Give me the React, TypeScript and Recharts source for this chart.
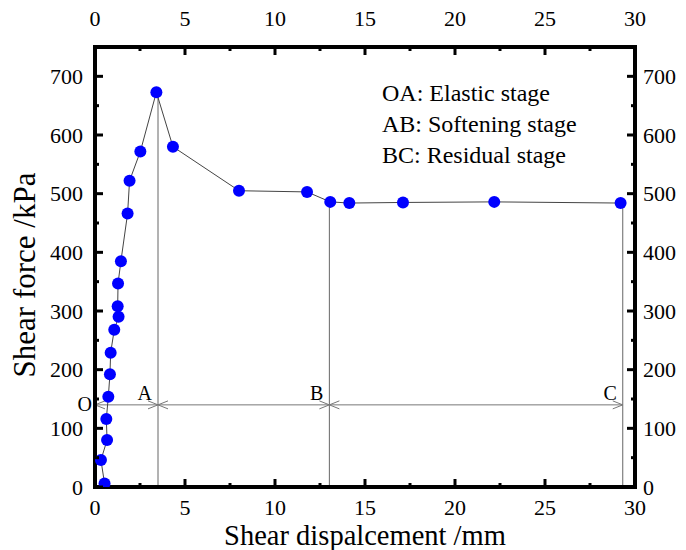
import {
  ComposedChart,
  XAxis,
  YAxis,
  Line,
  ReferenceLine,
  ReferenceDot,
} from "recharts";

const dispMm = [
  0.53, 0.33, 0.67, 0.63, 0.74, 0.83, 0.87, 1.07, 1.31, 1.26, 1.28, 1.44, 1.81,
  1.92, 2.52, 3.41, 4.33, 8.0, 11.78, 13.07, 14.13, 17.11, 22.18, 29.2,
];
const forceKPa = [
  6, 46, 80, 116, 154, 192, 229, 268, 290, 308, 347, 385, 466, 522, 572, 673,
  580, 505, 503, 486, 484, 485, 486, 484,
];

const stageNames = ["O", "A", "B", "C"];
const stageX = [0, 3.5, 13.02, 29.32];
const stageTop = [0, 673, 486, 484];
const arrowY = 140;

const xTicks = [0, 2.5, 5, 7.5, 10, 12.5, 15, 17.5, 20, 22.5, 25, 27.5, 30];
const yTicks = [
  0, 50, 100, 150, 200, 250, 300, 350, 400, 450, 500, 550, 600, 650, 700, 750,
];

const stageNotes = [
  "OA: Elastic stage",
  "AB: Softening stage",
  "BC: Residual stage",
];

const data = dispMm.map((x, i) => ({ x, y: forceKPa[i] }));

const FONT =
  '"Liberation Serif", Tinos, "Times New Roman", Times, "Nimbus Roman", "DejaVu Serif", serif';

const AxisTick = (props: any) => {
  const { x, y, payload, side } = props;
  const v = payload.value;
  const vertical = side === "left" || side === "right";
  const major = vertical ? v % 100 === 0 : v % 5 === 0;
  const len = major ? 8 : 4;
  let line;
  let label = null;
  const txt = { fontSize: 22, fontFamily: FONT, fill: "#000" };
  if (side === "bottom") {
    line = <line x1={x} x2={x} y1={y} y2={y - len} />;
    if (major)
      label = (
        <text x={x} y={y + 28} textAnchor="middle" {...txt}>
          {v}
        </text>
      );
  } else if (side === "top") {
    line = <line x1={x} x2={x} y1={y} y2={y + len} />;
    if (major)
      label = (
        <text x={x} y={y - 21} textAnchor="middle" {...txt}>
          {v}
        </text>
      );
  } else if (side === "left") {
    line = <line x1={x} x2={x + len} y1={y} y2={y} />;
    if (major)
      label = (
        <text x={x - 12} y={y + 7.5} textAnchor="end" {...txt}>
          {v}
        </text>
      );
  } else {
    line = <line x1={x} x2={x - len} y1={y} y2={y} />;
    if (major)
      label = (
        <text x={x + 8} y={y + 7.5} textAnchor="start" {...txt}>
          {v}
        </text>
      );
  }
  return (
    <g>
      <g stroke="#000" strokeWidth={3}>{line}</g>
      {label}
    </g>
  );
};

const ArrowShape = (props: any) => {
  const { x1, y1, x2, y2 } = props;
  return (
    <g stroke="#777" strokeWidth={1} fill="none">
      <line x1={x1} y1={y1} x2={x2} y2={y2} />
      <polyline points={`${x1 + 10},${y1 - 4} ${x1},${y1} ${x1 + 10},${y1 + 4}`} />
      <polyline points={`${x2 - 10},${y2 - 4} ${x2},${y2} ${x2 - 10},${y2 + 4}`} />
    </g>
  );
};

const StageLabel = (props: any) => {
  const { viewBox, text, dx, dy } = props;
  if (!viewBox) return null;
  return (
    <text
      x={viewBox.x + dx}
      y={viewBox.y + dy}
      textAnchor="end"
      fontSize={20}
      fontFamily={FONT}
      fill="#000"
    >
      {text}
    </text>
  );
};

const axisLine = { stroke: "#000", strokeWidth: 4, strokeLinecap: "square" as const };

export default function App() {
  return (
    <div
      style={{
        position: "absolute",
        left: 0,
        top: 0,
        width: 686,
        height: 550,
        background: "#fff",
        fontFamily: FONT,
      }}
    >
      <ComposedChart
        width={686}
        height={550}
        data={data}
        margin={{ top: 0, right: 0, bottom: 0, left: 0 }}
      >
        <XAxis
          xAxisId="bottom"
          orientation="bottom"
          type="number"
          dataKey="x"
          domain={[0, 30]}
          ticks={xTicks}
          height={63}
          tickSize={0}
          tickMargin={0}
          tickLine={false}
          axisLine={axisLine}
          tick={<AxisTick side="bottom" />}
          interval={0}
          allowDataOverflow
          label={{
            value: "Shear dispalcement /mm",
            position: "insideBottom",
            offset: 5,
            fontSize: 28.5,
            fontFamily: FONT,
            fill: "#000",
          }}
        />
        <XAxis
          xAxisId="top"
          orientation="top"
          type="number"
          dataKey="x"
          domain={[0, 30]}
          ticks={xTicks}
          height={47}
          tickSize={0}
          tickMargin={0}
          tickLine={false}
          axisLine={axisLine}
          tick={<AxisTick side="top" />}
          interval={0}
          allowDataOverflow
        />
        <YAxis
          yAxisId="left"
          orientation="left"
          type="number"
          domain={[0, 750]}
          ticks={yTicks}
          width={95}
          tickSize={0}
          tickMargin={0}
          tickLine={false}
          axisLine={axisLine}
          tick={<AxisTick side="left" />}
          interval={0}
          allowDataOverflow
          label={{
            content: (p: any) => {
              const vb = p.viewBox || { x: 0, y: 47, height: 440 };
              const cy = vb.y + vb.height / 2 + 8;
              return (
                <text
                  transform={`translate(35,${cy}) rotate(-90)`}
                  textAnchor="middle"
                  fontSize={31}
                  fontFamily={FONT}
                  fill="#000"
                >
                  Shear force /kPa
                </text>
              );
            },
          }}
        />
        <YAxis
          yAxisId="right"
          orientation="right"
          type="number"
          domain={[0, 750]}
          ticks={yTicks}
          width={51}
          tickSize={0}
          tickMargin={0}
          tickLine={false}
          axisLine={axisLine}
          tick={<AxisTick side="right" />}
          interval={0}
          allowDataOverflow
        />

        {/* hidden twin series so the top/right axes share the same scales */}
        <Line
          xAxisId="top"
          yAxisId="right"
          dataKey="y"
          stroke="none"
          dot={false}
          activeDot={false}
          legendType="none"
          isAnimationActive={false}
        />

        {stageX.slice(1).map((sx, i) => (
          <ReferenceLine
            key={`v${i}`}
            xAxisId="bottom"
            yAxisId="left"
            segment={[
              { x: sx, y: 0 },
              { x: sx, y: stageTop[i + 1] },
            ]}
            stroke="#666"
            strokeWidth={1}
          />
        ))}
        {stageX.slice(1).map((sx, i) => (
          <ReferenceLine
            key={`h${i}`}
            xAxisId="bottom"
            yAxisId="left"
            segment={[
              { x: stageX[i], y: arrowY },
              { x: sx, y: arrowY },
            ]}
            shape={ArrowShape}
          />
        ))}

        <Line
          xAxisId="bottom"
          yAxisId="left"
          type="linear"
          dataKey="y"
          stroke="#444"
          strokeWidth={1}
          dot={{ r: 6, fill: "#0000ff", stroke: "none" }}
          activeDot={false}
          isAnimationActive={false}
        />

        {stageNames.map((name, i) => (
          <ReferenceDot
            key={name}
            xAxisId="bottom"
            yAxisId="left"
            x={stageX[i]}
            y={arrowY}
            r={1}
            fill="none"
            stroke="none"
            label={
              <StageLabel
                text={name}
                dx={i === 0 ? -2 : -5}
                dy={i === 0 ? 7 : -4}
              />
            }
          />
        ))}
      </ComposedChart>
      <div
        style={{
          position: "absolute",
          left: 382,
          top: 78,
          fontFamily: FONT,
          fontSize: 24,
          lineHeight: "31px",
          color: "#000",
          whiteSpace: "nowrap",
        }}
      >
        {stageNotes.map((t) => (
          <div key={t}>{t}</div>
        ))}
      </div>
    </div>
  );
}
